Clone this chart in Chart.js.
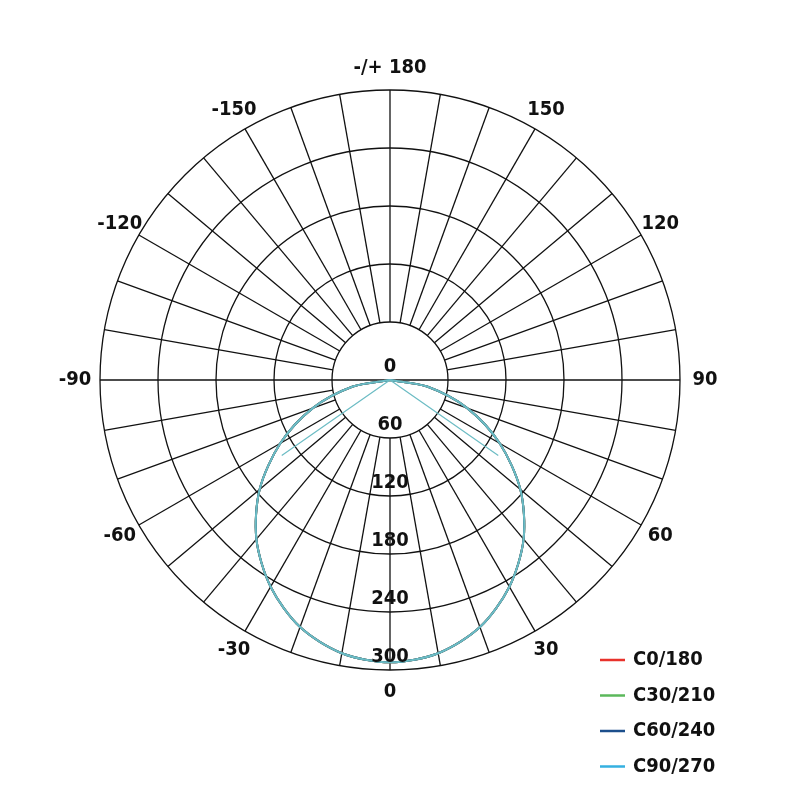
<!DOCTYPE html>
<html><head><meta charset="utf-8">
<script src="https://cdn.jsdelivr.net/npm/chart.js@4"></script>
<style>html,body{margin:0;background:#fff}#w{width:800px;height:800px}</style>
</head><body><div id="w"><canvas id="c"></canvas></div>
<script>
const gammaDeg = [0,10,20,30,40,50,60,70,80,90];
const c0_180  = [292,287,272,247,215,176,131,85,39,0];
const c30_210 = [292,287,272,247,215,176,131,85,39,0];
const c60_240 = [292,287,272,247,215,176,131,85,39,0];
const c90_270 = [292,287,272,247,215,176,131,85,39,0];
const ringValues = [60,120,180,240,300];
const radialLabels = ['0','60','120','180','240','300'];
const angleLabels = [[0,'0'],[30,'30'],[60,'60'],[90,'90'],[120,'120'],[150,'150'],[180,'-/+ 180'],[-150,'-150'],[-120,'-120'],[-90,'-90'],[-60,'-60'],[-30,'-30']];
const seriesNames = ['C0/180','C30/210','C60/240','C90/270'];
const seriesColors = ['#e8322b','#5bb85b','#1c4f8c','#35b0e0'];

function toXY(vals){
  const pts=[];
  for(let i=gammaDeg.length-1;i>=0;i--){const a=-gammaDeg[i]*Math.PI/180;pts.push({x:vals[i]*Math.sin(a),y:-vals[i]*Math.cos(a)});}
  for(let i=1;i<gammaDeg.length;i++){const a=gammaDeg[i]*Math.PI/180;pts.push({x:vals[i]*Math.sin(a),y:-vals[i]*Math.cos(a)});}
  return pts;
}
const all=[c0_180,c30_210,c60_240,c90_270];
const datasets=all.map((v,i)=>({label:seriesNames[i],data:toXY(v),showLine:true,pointRadius:0,borderWidth:2,order:10-i,
  borderColor: i===3 ? '#6cbcc4' : seriesColors[i], tension:0.3}));
datasets.push({label:'x',data:[{x:-112,y:-78},{x:0,y:0},{x:112,y:-78}],showLine:true,pointRadius:0,borderWidth:1.2,borderColor:'#6cbcc4',order:0});

const polarGrid={id:'pg',
 beforeDatasetsDraw(ch){
  const ctx=ch.ctx,xs=ch.scales.x,ys=ch.scales.y;
  const cx=xs.getPixelForValue(0),cy=ys.getPixelForValue(0);
  const px=v=>xs.getPixelForValue(v)-cx;
  ctx.save();ctx.strokeStyle='#111';ctx.lineWidth=1.3;
  ringValues.forEach(r=>{ctx.beginPath();ctx.arc(cx,cy,px(r),0,Math.PI*2);ctx.stroke();});
  for(let a=0;a<360;a+=10){const t=a*Math.PI/180;const r0=(a%90===0&&a!==0&&a!==180)?0:px(60);
    ctx.beginPath();ctx.moveTo(cx+r0*Math.sin(t),cy+r0*Math.cos(t));ctx.lineTo(cx+px(300)*Math.sin(t),cy+px(300)*Math.cos(t));ctx.stroke();}
  ctx.restore();
 },
 afterDatasetsDraw(ch){
  const ctx=ch.ctx,xs=ch.scales.x,ys=ch.scales.y;
  const cx=xs.getPixelForValue(0),cy=ys.getPixelForValue(0);
  const px=v=>xs.getPixelForValue(v)-cx;
  ctx.save();ctx.fillStyle='#111';ctx.font='bold 20px "DejaVu Sans Condensed", "Liberation Sans", Arial';ctx.textAlign='center';ctx.textBaseline='middle';
  radialLabels.forEach((t,i)=>{ctx.fillText(t,cx,cy-13+px(i*60));});
  angleLabels.forEach(([a,t])=>{const th=a*Math.PI/180;const R=px(300)+(Math.abs(a)===90?25:22);
    ctx.fillText(t,cx+R*Math.sin(th),cy+R*Math.cos(th));});
  ctx.textAlign='left';
  seriesNames.forEach((n,i)=>{const y=660+i*35.5;ctx.strokeStyle=seriesColors[i];ctx.lineWidth=2.5;
    ctx.beginPath();ctx.moveTo(600,y);ctx.lineTo(625,y);ctx.stroke();ctx.fillText(n,633,y);});
  ctx.restore();
 }};

new Chart(document.getElementById('c'),{type:'scatter',data:{datasets},
 options:{responsive:true,maintainAspectRatio:false,animation:false,
  layout:{padding:{left:100,right:120,top:90,bottom:130}},
  plugins:{legend:{display:false},tooltip:{enabled:false}},
  scales:{x:{type:'linear',min:-300,max:300,display:false},y:{type:'linear',min:-300,max:300,display:false}}},
 plugins:[polarGrid]});
</script></body></html>
